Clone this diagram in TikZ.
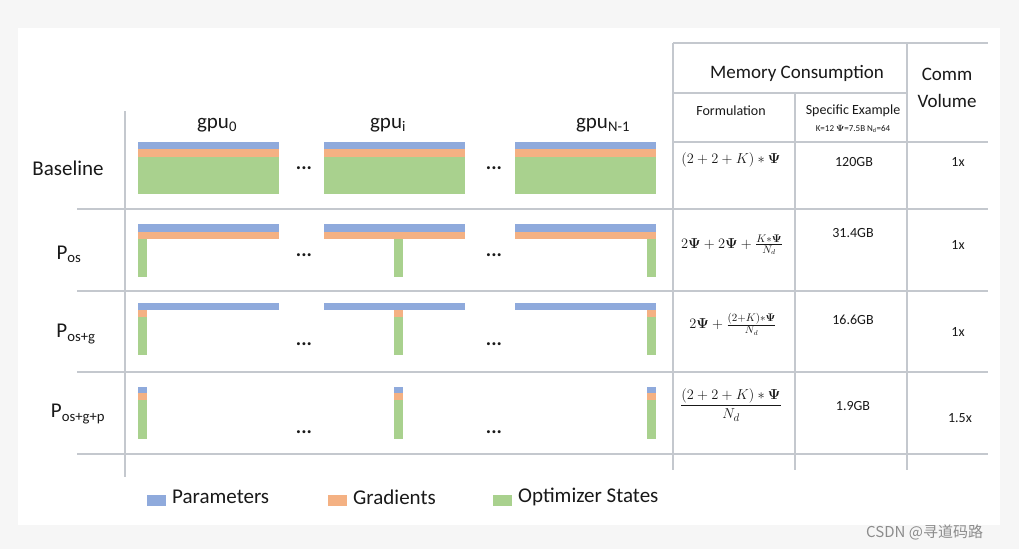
\documentclass[tikz,border=0pt]{standalone}
\usepackage{amsmath}
\usepackage[no-math]{fontspec}
\setmainfont{Carlito}
\newfontfamily\cjkfont{Noto Sans CJK SC}
\definecolor{parcol}{RGB}{143,170,220}
\definecolor{gradcol}{RGB}{244,177,131}
\definecolor{optcol}{RGB}{169,209,142}
\definecolor{gridcol}{RGB}{196,200,206}
\definecolor{inkcol}{RGB}{25,25,25}
\definecolor{pagecol}{RGB}{246,246,246}
\newcommand{\fs}[1]{\fontsize{#1}{#1}\selectfont}
\newcommand{\bpsi}{\boldsymbol{\Psi}}
\tikzset{
  gridline/.style={draw=gridcol, line width=1.3pt},
  biglab/.style={text=inkcol, font=\fs{21}, inner sep=0pt},
  headlab/.style={text=inkcol, font=\fs{19}, inner sep=0pt},
  cellLab/.style={text=inkcol, font=\fs{14}, inner sep=0pt},
  mathlab/.style={text=inkcol, font=\fs{15}, inner sep=0pt},
  dotslab/.style={text=inkcol, font=\fs{20}\bfseries, inner sep=0pt},
  keybox/.style={minimum width=19pt, minimum height=11pt, inner sep=0pt}
}
\begin{document}
\begin{tikzpicture}[x=1pt,y=-1pt]
\useasboundingbox (0,0) rectangle (1019,549);
\fill[pagecol] (0,0) rectangle (1019,549);
\fill[white] (18,28) rectangle (1000,525);

% grid
\draw[gridline] (125,111) -- (125,477);
\foreach \yy in {209,291,372,454}
  \draw[gridline] (77,\yy) -- (988,\yy);
\draw[gridline] (673,43) -- (988,43);
\draw[gridline] (673,93) -- (907,93);
\draw[gridline] (673,142) -- (988,142);
\draw[gridline] (673,43) -- (673,470);
\draw[gridline] (795,93) -- (795,470);
\draw[gridline] (907,43) -- (907,470);

% memory bars per gpu
\foreach \xa/\xb/\sx in {138/279/138, 324/465/394, 515/656/647} {
  % baseline
  \fill[parcol] (\xa,142) rectangle (\xb,149);
  \fill[gradcol] (\xa,149) rectangle (\xb,157);
  \fill[optcol] (\xa,157) rectangle (\xb,194);
  % P_os
  \fill[parcol] (\xa,224) rectangle (\xb,232);
  \fill[gradcol] (\xa,232) rectangle (\xb,239);
  \fill[optcol] (\sx,239) rectangle ++(9,38);
  % P_os+g
  \fill[parcol] (\xa,303) rectangle (\xb,310);
  \fill[gradcol] (\sx,310) rectangle ++(9,7);
  \fill[optcol] (\sx,317) rectangle ++(9,38);
  % P_os+g+p
  \fill[parcol] (\sx,387) rectangle ++(9,6);
  \fill[gradcol] (\sx,393) rectangle ++(9,7);
  \fill[optcol] (\sx,400) rectangle ++(9,39);
}

% gpu headers
\node[biglab] (gpu0) at (217,125) {gpu\textsubscript{0}};
\node[biglab] (gpui) at (388,125) {gpu\textsubscript{i}};
\node[biglab] (gpun) at (603,125) {gpu\textsubscript{N-1}};

% row labels
\node[biglab] (base) at (68,168) {Baseline};
\node[biglab] (pos) at (69,254) {P\textsubscript{os}};
\node[biglab] (posg) at (76,334) {P\textsubscript{os+g}};
\node[biglab] (posgp) at (78,414) {P\textsubscript{os+g+p}};

% dots
\foreach \yy/\nm in {168/a,255/b,344/c,432/d} {
  \node[dotslab] (dl\nm) at (304,\yy) {...};
  \node[dotslab] (dr\nm) at (494,\yy) {...};
}

% table header
\node[headlab] (memhd) at (797,73) {Memory Consumption};
\node[headlab, align=center, font=\fontsize{19}{27}\selectfont] (commhd) at (947,88) {Comm\\Volume};
\node[cellLab] (formhd) at (731,111) {Formulation};
\node[cellLab] (spechd) at (853,111) {Specific Example};
\node[cellLab, font=\fs{9}] (specsub) at (853,129) {K=12 $\bpsi$=7.5B N\textsubscript{d}=64};

% formulations
\node[mathlab] (f1) at (731,160) {$(2+2+K)*\bpsi$};
\node[mathlab] (f2) at (732,245) {$2\bpsi+2\bpsi+\frac{K*\bpsi}{N_d}$};
\node[mathlab] (f3) at (733,324) {$2\bpsi+\frac{(2+K)*\bpsi}{N_d}$};
\node[mathlab] (f4) at (731,405) {$\dfrac{(2+2+K)*\bpsi}{N_d}$};

% examples
\node[cellLab] (e1) at (854,162) {120GB};
\node[cellLab] (e2) at (853,233) {31.4GB};
\node[cellLab] (e3) at (853,320) {16.6GB};
\node[cellLab] (e4) at (853,406) {1.9GB};

% comm volume
\node[cellLab] (c1) at (958,162) {1x};
\node[cellLab] (c2) at (958,245) {1x};
\node[cellLab] (c3) at (958,332) {1x};
\node[cellLab] (c4) at (960,418) {1.5x};

% legend
\node[keybox, fill=parcol] (kpar) at (156,500) {};
\node[biglab, anchor=west] (tpar) at (172,497) {Parameters};
\node[keybox, fill=gradcol] (kgrad) at (337,500) {};
\node[biglab, anchor=west] (tgrad) at (353,497) {Gradients};
\node[keybox, fill=optcol] (kopt) at (502,500) {};
\node[biglab, anchor=west] (topt) at (518,497) {Optimizer States};

% watermark
\node[text=black!45, font=\cjkfont\fs{15}, inner sep=0pt, anchor=west] (mark) at (866,532) {CSDN @寻道码路};
\end{tikzpicture}
\end{document}
